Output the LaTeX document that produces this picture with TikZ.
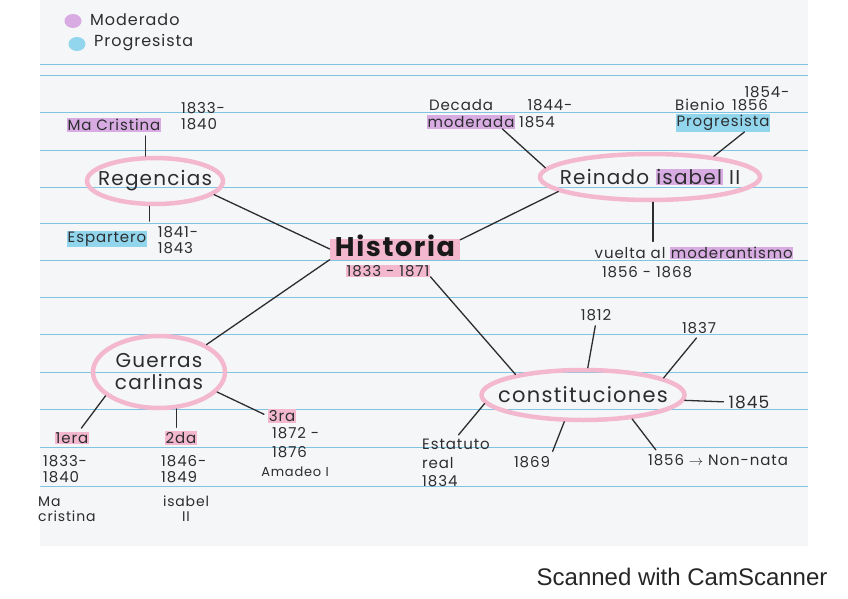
\documentclass[tikz,border=0pt]{standalone}
\usepackage{fontspec}
\usepackage{tikz}
\usetikzlibrary{shapes.geometric,calc}

\newfontfamily\hand[LetterSpace=6]{Poppins}
\newfontfamily\scanfont{Liberation Sans}

\definecolor{ink}{RGB}{45,45,48}
\definecolor{rosa}{RGB}{243,184,205}
\definecolor{moder}{RGB}{216,172,226}
\definecolor{progr}{RGB}{146,214,238}
\definecolor{ruleblue}{RGB}{128,196,226}
\definecolor{paper}{RGB}{245,246,248}

\newcommand{\hlmod}[1]{{\setlength{\fboxsep}{0.6pt}\colorbox{moder}{#1}}}

\tikzset{
  hand/.style={font=\hand\fontsize{15}{16}\selectfont, text=ink, inner sep=1pt, align=left},
  bubble/.style={ellipse, draw=rosa, line width=4.5pt, text=ink, inner xsep=-22pt, inner ysep=0pt,
    font=\hand\fontsize{20}{22}\selectfont, align=center},
  link/.style={draw=ink, line width=1.3pt, line cap=round},
  twig/.style={link, shorten >=4pt},
  rulingline/.style={draw=ruleblue, line width=1pt},
  modhl/.style={fill=moder},
  proghl/.style={fill=progr},
  rosahl/.style={fill=rosa},
}

\begin{document}
\begin{tikzpicture}[x=1pt,y=-1pt]
  \useasboundingbox (0,0) rectangle (848,599);
  \fill[white] (0,0) rectangle (848,599);

  % the sheet and its ruling
  \fill[paper] (40,0) rectangle (808,546);
  \foreach \ly in {65,76,113,150,187,223,260,297,334,372,409,447,486}
    \draw[rulingline] (40,\ly) -- (808,\ly);

  % legend
  \node[ellipse, fill=moder, minimum width=17pt, minimum height=14pt, inner sep=0pt] (dotmod) at (73,21) {};
  \node[ellipse, fill=progr, minimum width=17pt, minimum height=14pt, inner sep=0pt] (dotprog) at (77,44) {};
  \node[hand, font=\hand\fontsize{16}{18}\selectfont, anchor=west] (legmod) at (89,20) {Moderado};
  \node[hand, font=\hand\fontsize{16}{18}\selectfont, anchor=west] (legprog) at (93,43) {Progresista};

  % centre
  \node[rosahl, font=\hand\bfseries\fontsize{27}{29}\selectfont, text=black!90,
    inner xsep=5pt, inner ysep=0pt, text height=18pt, text depth=3pt] (hist) at (395,249) {Historia};
  \node[hand, rosahl, inner ysep=0pt] (histd) at (388,271) {1833 - 1871};

  % Regencias
  \node[bubble, minimum width=136pt, minimum height=46pt] (reg) at (155,181) {Regencias};
  \node[hand, modhl] (macris) at (114,125) {Ma Cristina};
  \node[hand] (regd1) at (203,116) {1833-\\1840};
  \node[hand, proghl] (espar) at (107,239) {Espartero};
  \node[hand] (regd2) at (178,240) {1841-\\1843};
  \draw[twig] (reg.111) -- (reg.111 |- macris.south);
  \draw[twig] (reg.-102) -- (reg.-102 |- regd2.north);

  % Reinado de Isabel II
  \node[bubble, minimum width=220pt, minimum height=46pt] (rein) at (650,177) {Reinado \hlmod{isabel} II};
  \node[hand] (dec1) at (461,105) {Decada};
  \node[hand, modhl] (dec2) at (471,122) {moderada};
  \node[hand] (decd1) at (550,105) {1844-};
  \node[hand] (decd2) at (537,122) {1854};
  \node[hand] (bien) at (700,105) {Bienio};
  \node[hand] (biend1) at (767,92) {1854-};
  \node[hand] (biend2) at (750,105) {1856};
  \node[hand, proghl] (prog) at (723,123) {Progresista};
  \node[hand] (vuel) at (694,253) {vuelta al \hlmod{moderantismo}};
  \node[hand] (vueld) at (647,272) {1856 - 1868};
  \draw[link] ($(dec2.south)!0.7!(dec2.south east)$) -- (rein.175);
  \draw[link] ($(prog.south)!0.45!(prog.south east)$) -- (rein.18);
  \draw[twig] (rein.-83) -- (rein.-83 |- vuel.north);

  % Guerras carlinas
  \node[bubble, minimum width=132pt, minimum height=72pt] (guer) at (159,372) {Guerras\\carlinas};
  \node[hand, rosahl] (g1) at (72,438) {1era};
  \node[hand, anchor=west] (g1d) at (42,469) {1833-\\1840};
  \node[hand, font=\hand\fontsize{14}{15}\selectfont, anchor=west] (g1r) at (37,509) {Ma\\cristina};
  \node[hand, rosahl] (g2) at (181,438) {2da};
  \node[hand, anchor=west] (g2d) at (160,469) {1846-\\1849};
  \node[hand, font=\hand\fontsize{14}{15}\selectfont, align=center] (g2r) at (186,509) {isabel\\II};
  \node[hand, rosahl] (g3) at (282,416) {3ra};
  \node[hand, anchor=west, font=\hand\fontsize{15}{19}\selectfont] (g3d) at (271,443) {1872 -\\1876};
  \node[hand, font=\hand\fontsize{13}{15}\selectfont] (g3r) at (295,472) {Amadeo I};
  \draw[twig] (guer.-156) -- ($(g1.north)!0.4!(g1.north east)$);
  \draw[twig] (guer.-65) -- (guer.-65 |- g2.north);
  \draw[twig] (guer.-19) -- (g3.west);

  % Constituciones
  \node[bubble, minimum width=203pt, minimum height=50pt, font=\hand\fontsize{21}{23}\selectfont] (cons) at (583,395) {constituciones};
  \node[hand] (c1812) at (596,315) {1812};
  \node[hand] (c1837) at (699,328) {1837};
  \node[hand, font=\hand\fontsize{17}{19}\selectfont] (c1845) at (749,402) {1845};
  \node[hand] (c1856) at (718,460) {1856 $\rightarrow$ Non-nata};
  \node[hand] (c1869) at (532,462) {1869};
  \node[hand, anchor=west, font=\hand\fontsize{15}{18.5}\selectfont] (estat) at (421,463) {Estatuto\\real\\1834};
  \draw[twig] (cons.80) -- (c1812.south);
  \draw[twig] (cons.12) -- (c1837.south);
  \draw[twig] (cons.-3) -- (c1845.west);
  \draw[twig] (cons.-26) -- ($(c1856.north west)!0.08!(c1856.north east)$);
  \draw[twig] (cons.-125) -- (c1869.north east);
  \draw[twig] (cons.-175) -- (estat.north);

  % main branches
  \draw[link] (reg.-13) -- (hist.west);
  \draw[link] (hist.8) -- (rein.189);
  \draw[link] (hist.south west) -- (guer.30);
  \draw[link] (histd.south east) -- (cons.163);

  % footer
  \node[font=\scanfont\fontsize{24}{26}\selectfont, text=black!85, anchor=east] (scan) at (831,577) {Scanned with CamScanner};
\end{tikzpicture}
\end{document}
